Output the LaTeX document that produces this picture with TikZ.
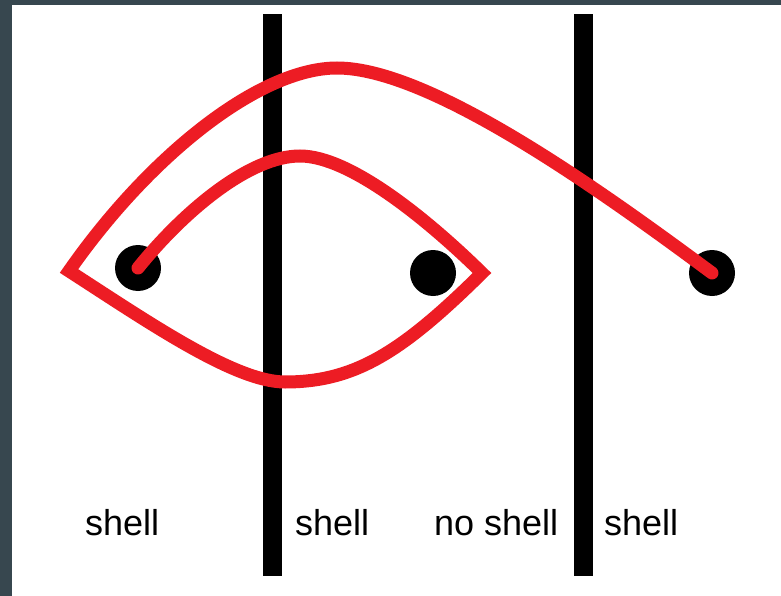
\documentclass[tikz,border=0pt]{standalone}
\usepackage{fontspec}
\setmainfont{Liberation Sans}
\definecolor{paintred}{RGB}{237,28,36}
\definecolor{framecol}{RGB}{55,71,79}
\begin{document}
\begin{tikzpicture}[x=1pt,y=-1pt,
  bar/.style={fill=black,inner sep=0,minimum width=19pt,minimum height=562pt},
  dot/.style={circle,fill=black,minimum size=46pt,inner sep=0},
  lbl/.style={anchor=base west,inner sep=0,font=\fontsize{36}{40}\selectfont},
  wire/.style={draw=paintred,line width=13pt,line join=miter,line cap=round}]
\useasboundingbox (0,0) rectangle (781,596);
\fill[framecol] (0,0) rectangle (781,596);
\fill[white] (12,5) rectangle (781,596);
\node[bar] (barL) at (272.5,295) {};
\node[bar] (barR) at (583,295) {};
\node[dot] (dotL) at (138,268) {};
\node[dot] (dotM) at (433,273) {};
\node[dot] (dotR) at (712,273) {};
\coordinate (tipR) at (482,273);
\coordinate (tipL) at (69,271);
\coordinate (peakIn) at (300,156);
\coordinate (bottom) at (285,382);
\coordinate (peakOut) at (337,68);
\draw[wire] (dotL.center) .. controls (185,210) and (250,156) .. (peakIn)
  .. controls (350,156) and (428,220) .. (tipR)
  .. controls (402,352) and (355,382) .. (bottom)
  .. controls (235,382) and (148,322) .. (tipL)
  .. controls (150,155) and (260,68) .. (peakOut)
  .. controls (430,68) and (600,190) .. (dotR.center);
\node[lbl] (t1) at (85,535) {shell};
\node[lbl] (t2) at (295,535) {shell};
\node[lbl] (t3) at (434,535) {no shell};
\node[lbl] (t4) at (604,535) {shell};
\end{tikzpicture}
\end{document}
